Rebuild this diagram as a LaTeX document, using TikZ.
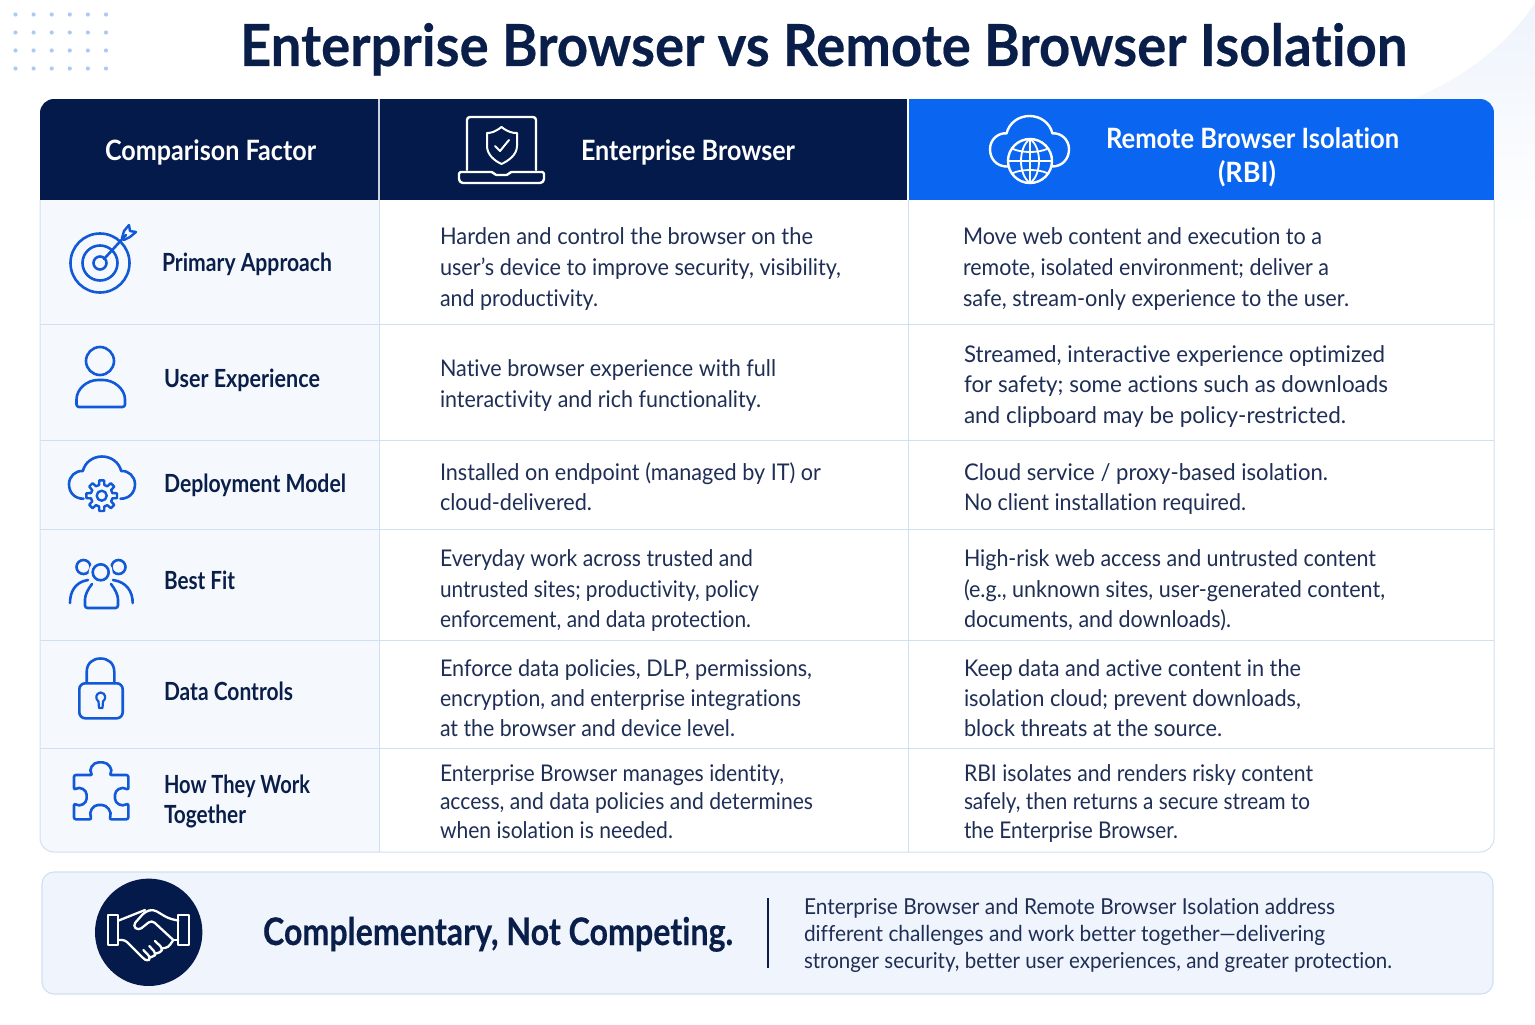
\documentclass[tikz,border=0pt]{standalone}
\usepackage{fontspec}
\usepackage{graphicx}
\setmainfont{Lato}[Ligatures=NoCommon]
\newfontfamily\heavyfont{Lato}[Ligatures=NoCommon,UprightFont=*-Bold,FakeBold=0.35]
\definecolor{navy}{HTML}{031A4B}
\definecolor{ink}{HTML}{0A1E4A}
\definecolor{bodyink}{HTML}{1E2E55}
\definecolor{brand}{HTML}{0A66F0}
\definecolor{iconblue}{HTML}{1159D6}
\definecolor{rule}{HTML}{D0E0F3}
\definecolor{tint}{HTML}{F5F9FE}
\definecolor{foot}{HTML}{F0F5FD}
\definecolor{dot}{HTML}{A9CBF4}
\definecolor{corner}{HTML}{EEF4FC}
\tikzset{
  txt/.style={anchor=base west,inner sep=0pt,outer sep=0pt},
  bodytxt/.style={txt,text=bodyink,font=\fontsize{23}{28}\selectfont},
  foottxt/.style={txt,text=bodyink,font=\fontsize{22}{27}\selectfont},
  labtxt/.style={txt,text=ink,font=\bfseries\fontsize{25}{30}\selectfont},
  hdrtxt/.style={txt,text=white,font=\bfseries\fontsize{28}{34}\selectfont},
  titletxt/.style={txt,text=ink,font=\heavyfont\fontsize{58}{64}\selectfont},
  slogan/.style={txt,text=ink,font=\heavyfont\fontsize{38}{44}\selectfont},
  icon/.style={draw=iconblue,line width=2.6pt,line cap=round,line join=round},
  wicon/.style={draw=white,line width=2.4pt,line cap=round,line join=round},
  tabrule/.style={draw=rule,line width=1pt},
}
% style, name, left x, right x, baseline y, text
\newcommand\tl[6]{\pgfmathsetlengthmacro{\tlw}{#4-#3}\node[#1] (#2) at (#3,#5) {\resizebox{\tlw}{\height}{#6}};}
\newcommand\cloudshape{(22,64) .. controls (8,64) and (0,54) .. (0,42) .. controls (0,30) and (10,21) .. (21,22) .. controls (24,9) and (36,0) .. (50,0) .. controls (64,0) and (76,9) .. (79,22) .. controls (90,21) and (100,30) .. (100,42) .. controls (100,54) and (92,64) .. (78,64)}
\begin{document}
\begin{tikzpicture}[x=1pt,y=-1pt]
\useasboundingbox (0,0) rectangle (1535,1025);
\fill[white] (0,0) rectangle (1535,1025);
% corner decoration
\shade[top color=corner,bottom color=white] (1410,100) .. controls (1465,78) and (1510,42) .. (1535,3) -- (1535,230) -- (1410,230) -- cycle;
% dots
\foreach \i in {0,...,5}\foreach \j in {0,...,3}
  \fill[dot] ({15.5+18.1*\i},{14.5+18*\j}) circle (2.1);
% title
\tl{titletxt}{title}{240}{1407}{66}{Enterprise Browser vs Remote Browser Isolation}
% table
\fill[white,rounded corners=14pt] (40,99) rectangle (1494,852);
\begin{scope}
\clip[rounded corners=14pt] (40,99) rectangle (1494,852);
\fill[tint] (40,200) rectangle (379,852);
\fill[navy] (40,99) rectangle (908,200);
\fill[brand] (908,99) rectangle (1494,200);
\draw[white!80!navy,line width=1.2pt] (379,99) -- (379,200);
\draw[white,line width=1.2pt] (908,99) -- (908,200);
\foreach \y in {324,440,529,640,748} \draw[tabrule] (40,\y) -- (1494,\y);
\draw[tabrule] (379,200) -- (379,852);
\draw[tabrule] (908,200) -- (908,852);
\end{scope}
\draw[tabrule,rounded corners=14pt] (40,200) -- (40,852) -- (1494,852) -- (1494,200);
% header text
\tl{hdrtxt}{h1}{105}{316}{160}{Comparison Factor}
\tl{hdrtxt}{h2}{581}{795}{160}{Enterprise Browser}
\tl{hdrtxt}{h3a}{1106}{1399}{148}{Remote Browser Isolation}
\tl{hdrtxt}{h3b}{1218}{1276}{182}{(RBI)}
% laptop icon
\draw[wicon,rounded corners=3pt] (467,170) -- (467,117) -- (536,117) -- (536,170);
\draw[wicon,rounded corners=4pt] (459,175) -- (459,183) -- (544,183) -- (544,175);
\draw[wicon,rounded corners=1.5pt] (459,175) -- (459,172) -- (493,172) -- (495,175) -- (508,175) -- (510,172) -- (544,172) -- (544,175);
\draw[wicon,line width=2pt] (501.5,127) .. controls (495,132) and (491,133) .. (487,133) -- (487,146) .. controls (487,155) and (495,161) .. (501.5,164) .. controls (508,161) and (517,155) .. (517,146) -- (517,133) .. controls (512,133) and (508,132) .. (501.5,127) -- cycle;
\draw[wicon,line width=2pt] (495,146) -- (500,151) -- (509,140);
% cloud globe icon
\begin{scope}[shift={(990,116)},scale=0.79]
\draw[wicon] \cloudshape;
\end{scope}
\draw[wicon,fill=brand] (1030,161) circle (22);
\draw[wicon,line width=1.8pt] (1030,139) .. controls (1018,147) and (1018,175) .. (1030,183) .. controls (1042,175) and (1042,147) .. (1030,139);
\draw[wicon,line width=1.8pt] (1030,139) -- (1030,183);
\draw[wicon,line width=1.8pt] (1008,161) -- (1052,161);
\draw[wicon,line width=1.8pt] (1013,149) .. controls (1022,153) and (1038,153) .. (1047,149);
\draw[wicon,line width=1.8pt] (1013,173) .. controls (1022,169) and (1038,169) .. (1047,173);
% row labels
\tl{labtxt}{l1}{162}{332}{271}{Primary Approach}
\tl{labtxt}{l2}{164}{320}{387}{User Experience}
\tl{labtxt}{l3}{164}{346}{492}{Deployment Model}
\tl{labtxt}{l4}{164}{235}{589}{Best Fit}
\tl{labtxt}{l5}{164}{293}{700}{Data Controls}
\tl{labtxt}{l6a}{164}{310}{793}{How They Work}
\tl{labtxt}{l6b}{164}{246}{823}{Together}
% target icon
\draw[icon] (100,263) circle (29.5);
\draw[icon] (100,263) circle (17.5);
\draw[icon] (100,263) circle (6.5);
\draw[icon] (104,259) -- (126,235);
\draw[icon,line width=2.4pt] (122,238) -- (124,231) -- (129,225) -- (130,231) -- (136,232) -- (130,237) -- (124,240) -- cycle;
% person icon
\draw[icon] (100,361) circle (14);
\draw[icon,rounded corners=2.5pt] (76.5,407) -- (76.5,402) .. controls (76.5,389) and (87,380) .. (100.5,380) .. controls (114,380) and (125,389) .. (125,402) -- (125,407) -- cycle;
% cloud gear icon
\begin{scope}[shift={(69,456.5)},scale=0.66]
\draw[icon] \cloudshape;
\end{scope}
\begin{scope}[shift={(101.7,495.7)}]
\foreach \a in {0,45,...,315}{
  \draw[icon,line width=2.4pt] ({11*cos(\a-14)},{11*sin(\a-14)}) -- ({15.5*cos(\a-9)},{15.5*sin(\a-9)}) -- ({15.5*cos(\a+9)},{15.5*sin(\a+9)}) -- ({11*cos(\a+14)},{11*sin(\a+14)}) -- ({11*cos(\a+31)},{11*sin(\a+31)});
}
\draw[icon,line width=2.4pt] (0,0) circle (5);
\end{scope}
% people icon
\draw[icon] (83.5,567) circle (7);
\draw[icon] (118.5,567) circle (7);
\fill[tint] (100.7,572.3) circle (12);
\draw[icon] (100.7,572.3) circle (8);
\draw[icon] (70,603) .. controls (70,592) and (75,582) .. (88,580);
\draw[icon] (132.7,603) .. controls (132.7,592) and (127,582) .. (113,580);
\draw[icon,rounded corners=2.5pt] (92,584) .. controls (88,589) and (85,595) .. (85,602) -- (85,608) -- (118,608) -- (118,602) .. controls (118,595) and (115,589) .. (111,584);
% lock icon
\draw[icon,rounded corners=6pt] (79.3,683.3) rectangle (122.7,718.3);
\draw[icon] (86.7,683) -- (86.7,672) .. controls (86.7,663) and (93,658.5) .. (100.5,658.5) .. controls (108,658.5) and (114.3,663) .. (114.3,672) -- (114.3,683);
\draw[icon,line width=2.2pt] (98.5,701.5) .. controls (95,699) and (95.5,693) .. (100.7,692.5) .. controls (106,693) and (106.5,699) .. (103,701.5) -- (102.5,708) -- (99,708) -- cycle;
% puzzle icon
\begin{scope}[shift={(50,540)},x=0.3333pt,y=-0.3333pt]
\draw[icon,rounded corners=2pt] (72,705) -- (128,705) .. controls (115,690) and (128,667) .. (152,667) .. controls (176,667) and (190,690) .. (178,705) -- (235,705) -- (235,750) .. controls (215,738) and (195,750) .. (195,770) .. controls (195,790) and (215,802) .. (235,790) -- (235,838) -- (178,838) .. controls (188,815) and (170,795) .. (150,795) .. controls (130,795) and (115,815) .. (125,838) -- (72,838) -- (72,790) .. controls (90,802) and (110,790) .. (110,770) .. controls (110,750) and (90,738) .. (72,750) -- cycle;
\end{scope}
% body text: Enterprise Browser column
\tl{bodytxt}{a1}{440}{813}{244}{Harden and control the browser on the}
\tl{bodytxt}{a2}{440}{841}{275}{user’s device to improve security, visibility,}
\tl{bodytxt}{a3}{440}{598}{306}{and productivity.}
\tl{bodytxt}{a4}{440}{776}{376}{Native browser experience with full}
\tl{bodytxt}{a5}{440}{761}{407}{interactivity and rich functionality.}
\tl{bodytxt}{a6}{440}{821}{480}{Installed on endpoint (managed by IT) or}
\tl{bodytxt}{a7}{440}{592}{510}{cloud-delivered.}
\tl{bodytxt}{a8}{440}{753}{566}{Everyday work across trusted and}
\tl{bodytxt}{a9}{440}{759}{597}{untrusted sites; productivity, policy}
\tl{bodytxt}{a10}{440}{751}{627}{enforcement, and data protection.}
\tl{bodytxt}{a11}{440}{812}{676}{Enforce data policies, DLP, permissions,}
\tl{bodytxt}{a12}{440}{801}{706}{encryption, and enterprise integrations}
\tl{bodytxt}{a13}{440}{735}{736}{at the browser and device level.}
\tl{bodytxt}{a14}{440}{784}{781}{Enterprise Browser manages identity,}
\tl{bodytxt}{a15}{440}{813}{809}{access, and data policies and determines}
\tl{bodytxt}{a16}{440}{673}{838}{when isolation is needed.}
% body text: RBI column
\tl{bodytxt}{b1}{963}{1322}{244}{Move web content and execution to a}
\tl{bodytxt}{b2}{963}{1329}{275}{remote, isolated environment; deliver a}
\tl{bodytxt}{b3}{963}{1349}{306}{safe, stream-only experience to the user.}
\tl{bodytxt}{b4}{964}{1385}{362}{Streamed, interactive experience optimized}
\tl{bodytxt}{b5}{964}{1388}{392}{for safety; some actions such as downloads}
\tl{bodytxt}{b6}{964}{1346}{423}{and clipboard may be policy-restricted.}
\tl{bodytxt}{b7}{964}{1328}{480}{Cloud service / proxy-based isolation.}
\tl{bodytxt}{b8}{964}{1246}{510}{No client installation required.}
\tl{bodytxt}{b9}{964}{1376}{566}{High-risk web access and untrusted content}
\tl{bodytxt}{b10}{964}{1385}{597}{(e.g., unknown sites, user-generated content,}
\tl{bodytxt}{b11}{964}{1231}{627}{documents, and downloads).}
\tl{bodytxt}{b12}{964}{1301}{676}{Keep data and active content in the}
\tl{bodytxt}{b13}{964}{1301}{706}{isolation cloud; prevent downloads,}
\tl{bodytxt}{b14}{964}{1222}{736}{block threats at the source.}
\tl{bodytxt}{b15}{964}{1313}{781}{RBI isolates and renders risky content}
\tl{bodytxt}{b16}{964}{1310}{809}{safely, then returns a secure stream to}
\tl{bodytxt}{b17}{964}{1178}{838}{the Enterprise Browser.}
% footer
\draw[draw=rule,fill=foot,line width=1.1pt,rounded corners=12pt] (42,872) rectangle (1493,994);
\fill[navy] (148.7,932.3) circle (53.7);
\begin{scope}[shift={(30,860)},x=0.3333pt,y=-0.3333pt]
\draw[wicon,line width=2.3pt] (235,165) rectangle (265,255);
\draw[wicon,line width=2.3pt] (445,165) rectangle (478,255);
\draw[wicon,line width=2.3pt] (265,182) -- (345,150);
\draw[wicon,line width=2.3pt,rounded corners=4pt] (445,182) -- (415,175) -- (370,148) -- (345,155) -- (308,197) -- (325,212) -- (365,180) -- (430,240);
\draw[wicon,line width=2.3pt] (430,240) -- (445,240);
\draw[wicon,line width=2.3pt,rounded corners=3pt] (265,240) -- (285,240) -- (340,295) -- (352,304) -- (362,295) -- (355,285) -- (340,270);
\draw[wicon,line width=2.3pt,rounded corners=3pt] (360,292) -- (372,290) -- (378,280) -- (358,258);
\draw[wicon,line width=2.3pt,rounded corners=3pt] (378,280) -- (392,278) -- (398,265) -- (375,243);
\draw[wicon,line width=2.3pt,rounded corners=3pt] (398,265) -- (415,262) -- (430,240);
\end{scope}
\tl{slogan}{s1}{263}{733}{945}{Complementary, Not Competing.}
\draw[draw=ink,line width=1.4pt] (768,898) -- (768,968);
\tl{foottxt}{f1}{804}{1335}{914}{Enterprise Browser and Remote Browser Isolation address}
\tl{foottxt}{f2}{804}{1325}{941}{different challenges and work better together—delivering}
\tl{foottxt}{f3}{804}{1392}{968}{stronger security, better user experiences, and greater protection.}
\end{tikzpicture}
\end{document}
